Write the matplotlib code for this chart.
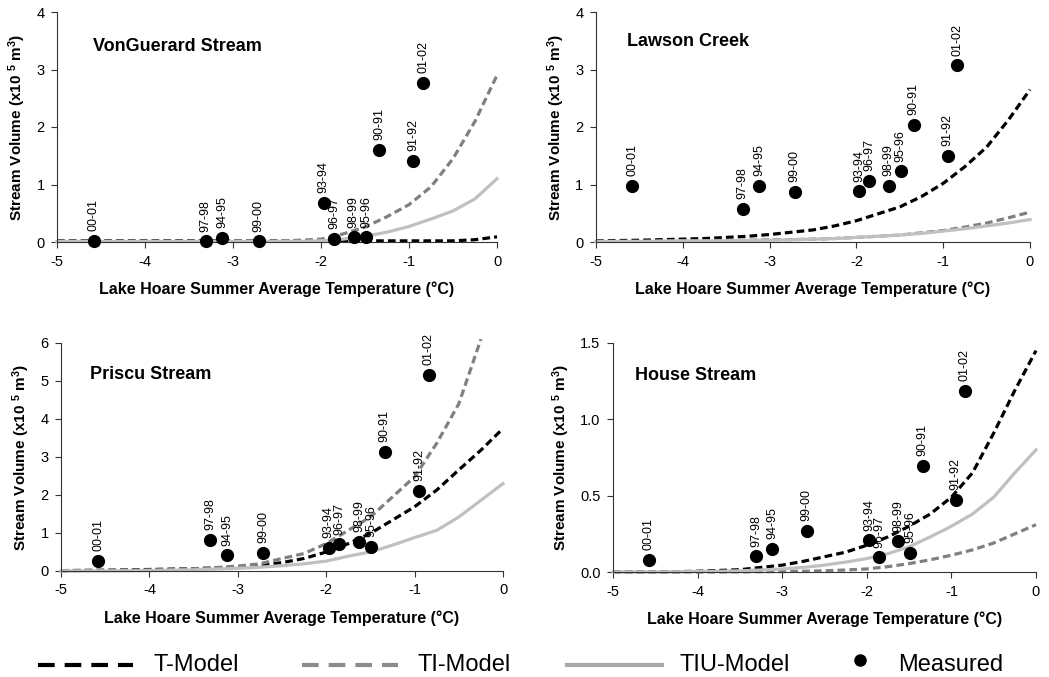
import matplotlib
matplotlib.use("Agg")
import matplotlib.pyplot as plt
from matplotlib.lines import Line2D
import numpy as np

plt.rcParams['font.family'] = ['Liberation Sans', 'DejaVu Sans']
plt.rcParams['mathtext.default'] = 'regular'

seasons = ["00-01", "97-98", "94-95", "99-00", "93-94", "96-97",
           "98-99", "95-96", "90-91", "91-92", "01-02"]
temps = [-4.58, -3.31, -3.12, -2.71, -1.97, -1.85, -1.63, -1.49, -1.34, -0.95, -0.84]

vonguerard_meas = [0.02, 0.01, 0.075, 0.01, 0.68, 0.06, 0.08, 0.08, 1.60, 1.41, 2.77]
lawson_meas = [0.98, 0.58, 0.98, 0.87, 0.88, 1.06, 0.98, 1.23, 2.04, 1.50, 3.07]
priscu_meas = [0.26, 0.81, 0.41, 0.48, 0.61, 0.70, 0.77, 0.63, 3.14, 2.10, 5.16]
house_meas = [0.079, 0.103, 0.151, 0.269, 0.208, 0.096, 0.20, 0.127, 0.696, 0.473, 1.187]

model_t = [-5, -4.5, -4, -3.75, -3.5, -3.25, -3, -2.75, -2.5, -2.25,
           -2, -1.75, -1.5, -1.25, -1, -0.75, -0.5, -0.25, 0]

vonguerard_T = [0.02, 0.02, 0.02, 0.02, 0.02, 0.02, 0.02, 0.02, 0.02, 0.02,
                0.02, 0.02, 0.02, 0.02, 0.02, 0.02, 0.02, 0.04, 0.09]
vonguerard_TI = [0.01, 0.01, 0.01, 0.01, 0.01, 0.01, 0.02, 0.02, 0.02, 0.03,
                 0.05, 0.14, 0.26, 0.44, 0.65, 0.96, 1.45, 2.10, 2.90]
vonguerard_TIU = [0.01, 0.01, 0.01, 0.01, 0.01, 0.01, 0.01, 0.01, 0.01, 0.01,
                  0.02, 0.05, 0.10, 0.17, 0.27, 0.40, 0.54, 0.75, 1.10]

lawson_T = [0.02, 0.03, 0.05, 0.06, 0.08, 0.10, 0.13, 0.17, 0.21, 0.28,
            0.37, 0.49, 0.61, 0.79, 1.02, 1.31, 1.65, 2.12, 2.65]
lawson_TI = [0.01, 0.01, 0.02, 0.02, 0.03, 0.03, 0.04, 0.04, 0.05, 0.06,
             0.08, 0.10, 0.12, 0.16, 0.20, 0.26, 0.33, 0.42, 0.52]
lawson_TIU = [0.01, 0.01, 0.02, 0.02, 0.02, 0.03, 0.03, 0.04, 0.05, 0.06,
              0.08, 0.10, 0.12, 0.15, 0.19, 0.23, 0.28, 0.33, 0.39]

priscu_T = [0.01, 0.02, 0.04, 0.05, 0.06, 0.08, 0.10, 0.15, 0.22, 0.33,
            0.50, 0.72, 0.99, 1.34, 1.69, 2.13, 2.66, 3.18, 3.75]
priscu_TI = [0.01, 0.02, 0.03, 0.04, 0.06, 0.09, 0.13, 0.19, 0.33, 0.46,
             0.72, 1.07, 1.42, 1.95, 2.48, 3.36, 4.40, 6.10, np.nan]
priscu_TIU = [0.0, 0.0, 0.01, 0.02, 0.03, 0.05, 0.07, 0.10, 0.14, 0.19,
              0.26, 0.39, 0.50, 0.68, 0.88, 1.07, 1.42, 1.86, 2.30]

house_T = [0.0, 0.0, 0.005, 0.01, 0.015, 0.03, 0.045, 0.07, 0.10, 0.13,
           0.175, 0.23, 0.30, 0.38, 0.49, 0.65, 0.91, 1.19, 1.45]
house_TI = [0.0, 0.0, 0.0, 0.0, 0.001, 0.002, 0.003, 0.005, 0.008, 0.013,
            0.02, 0.035, 0.055, 0.08, 0.11, 0.145, 0.19, 0.25, 0.31]
house_TIU = [0.0, 0.0, 0.003, 0.005, 0.008, 0.013, 0.02, 0.03, 0.045, 0.065,
             0.088, 0.12, 0.165, 0.23, 0.30, 0.38, 0.49, 0.65, 0.80]

BLACK = '#000000'
GRAY = '#808080'
LIGHT = '#c0c0c0'

XLABEL = "Lake Hoare Summer Average Temperature (°C)"
YLABEL = "Stream Volume (x10 $^{5}$ m$^{3}$)"


def panel(fig, rect, name, name_pos, meas, t, ti, tiu, ymax, yticks, ylabels):
    ax = fig.add_axes(rect)
    ax.plot(model_t, t, color=BLACK, lw=2.3, ls=(0, (2.4, 1.3)), zorder=2, clip_on=False)
    ax.plot(model_t, ti, color=GRAY, lw=2.3, ls=(0, (2.4, 1.3)), zorder=2, clip_on=False)
    ax.plot(model_t, tiu, color=LIGHT, lw=2.3, zorder=2, clip_on=False)
    ax.plot(temps, meas, 'o', color=BLACK, ms=8.5, zorder=4, clip_on=False)
    for s, x, y in zip(seasons, temps, meas):
        ax.annotate(s, (x, y), xytext=(0, 7), textcoords='offset points',
                    rotation=90, ha='center', va='bottom', fontsize=9, zorder=5)
    ax.set_xlim(-5, 0)
    ax.set_ylim(0, ymax)
    ax.set_xticks([-5, -4, -3, -2, -1, 0])
    ax.set_xticklabels(['-5', '-4', '-3', '-2', '-1', '0'])
    ax.set_yticks(yticks)
    ax.set_yticklabels(ylabels)
    ax.spines['top'].set_visible(False)
    ax.spines['right'].set_visible(False)
    for sp in ('left', 'bottom'):
        ax.spines[sp].set_color('#333333')
        ax.spines[sp].set_linewidth(0.8)
    ax.tick_params(direction='out', length=4, width=0.8, color='#333333',
                   labelsize=10.5, pad=5)
    ax.set_xlabel(XLABEL, fontsize=11.5, fontweight='bold', labelpad=9)
    ax.set_ylabel(YLABEL, fontsize=11, fontweight='bold', labelpad=6)
    ax.text(name_pos[0], name_pos[1], name, transform=ax.transAxes,
            fontsize=13, fontweight='bold', va='center', ha='left')
    return ax


fig = plt.figure(figsize=(10.49, 6.77), dpi=100)
W, H = 1049.0, 677.0


def rect(l, r, t, b):
    return [l / W, 1 - b / H, (r - l) / W, (b - t) / H]


panel(fig, rect(57, 497, 12, 242), "VonGuerard Stream", (0.082, 0.848),
      vonguerard_meas, vonguerard_T, vonguerard_TI, vonguerard_TIU,
      4, [0, 1, 2, 3, 4], ['0', '1', '2', '3', '4'])
panel(fig, rect(596, 1030, 12, 242), "Lawson Creek", (0.071, 0.87),
      lawson_meas, lawson_T, lawson_TI, lawson_TIU,
      4, [0, 1, 2, 3, 4], ['0', '1', '2', '3', '4'])
panel(fig, rect(61, 503, 343, 571), "Priscu Stream", (0.066, 0.864),
      priscu_meas, priscu_T, priscu_TI, priscu_TIU,
      6, [0, 1, 2, 3, 4, 5, 6], ['0', '1', '2', '3', '4', '5', '6'])
panel(fig, rect(613, 1036, 343, 572), "House Stream", (0.052, 0.856),
      house_meas, house_T, house_TI, house_TIU,
      1.5, [0, 0.5, 1.0, 1.5], ['0.0', '0.5', '1.0', '1.5'])

# legend drawn along the bottom
ly = 1 - 665 / H
entries = [
    (38, 133, BLACK, (0, (4.0, 2.4)), "T-Model", 153),
    (302, 398, '#8c8c8c', (0, (4.0, 2.4)), "TI-Model", 417),
    (567, 662, '#a8a8a8', '-', "TIU-Model", 680),
]
for x0, x1, c, ls, lab, tx in entries:
    fig.add_artist(Line2D([x0 / W, x1 / W], [ly, ly], color=c,
                          lw=3.0, ls=ls, transform=fig.transFigure))
    fig.text(tx / W, ly, lab, fontsize=17, va='center', ha='left')
fig.add_artist(Line2D([860 / W], [ly + 5 / H], marker='o', color=BLACK, ms=8,
                      ls='none', transform=fig.transFigure))
fig.text(898 / W, ly, "Measured", fontsize=17, va='center', ha='left')

fig.savefig("out.png", dpi=100)
